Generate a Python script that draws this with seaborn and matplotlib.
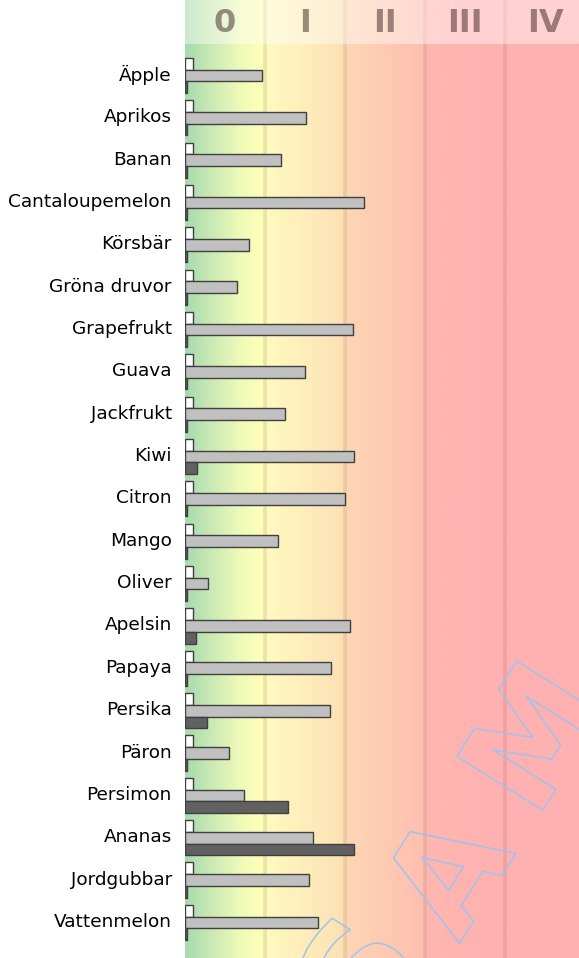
import numpy as np
import pandas as pd
import matplotlib
matplotlib.use("Agg")
import matplotlib.pyplot as plt
import matplotlib.transforms as mtransforms
import matplotlib.patheffects as pe
from matplotlib.patches import Rectangle
import seaborn as sns

# ---- data ----
fruits = ["Äpple", "Aprikos", "Banan", "Cantaloupemelon", "Körsbär", "Gröna druvor",
          "Grapefrukt", "Guava", "Jackfrukt", "Kiwi", "Citron", "Mango", "Oliver",
          "Apelsin", "Papaya", "Persika", "Päron", "Persimon", "Ananas",
          "Jordgubbar", "Vattenmelon"]
series_a = [2, 2, 2, 2, 2, 2, 2, 2, 2, 2, 2, 2, 2, 2, 2, 2, 2, 2, 2, 2, 2]
series_b = [19.25, 30.2, 24, 44.75, 16, 13, 42, 30, 25, 42.25, 40, 23.25, 5.7,
            41.2, 36.5, 36.2, 11, 14.75, 32, 31, 33.25]
series_c = [0.6, 0.6, 0.6, 0.6, 0.6, 0.6, 0.6, 0.6, 0.6, 3.0, 0.6, 0.6, 0.6,
            2.8, 0.6, 5.5, 0.6, 25.75, 42.25, 0.6, 0.6]
series_names = ["A", "B", "C"]
zone_labels = ["0", "I", "II", "III", "IV"]
zone_edges = [20, 40, 60, 80]
zone_centers = [10, 30, 50, 70, 90]

df = pd.DataFrame({
    "fruit": fruits * 3,
    "value": series_a + series_b + series_c,
    "series": [series_names[0]] * len(fruits) + [series_names[1]] * len(fruits)
              + [series_names[2]] * len(fruits),
})

sns.set_style("white")
plt.rcParams["font.family"] = ["DejaVu Sans"]

W, H = 579, 958
fig = plt.figure(figsize=(W / 100, H / 100), dpi=100)
ax = fig.add_axes([185 / W, 0, 394 / W, 1])

XMAX = 98.5
YTOP, YBOT = -1.78, 20.84

# background gradient
stops_x = [0, 6, 14, 19.5, 20.5, 40, 40.5, 60, 61, 80, XMAX]
stops_c = np.array([
    (166, 218, 174), (200, 232, 180), (240, 250, 184), (255, 255, 184),
    (255, 250, 192), (253, 224, 180), (254, 214, 181), (255, 190, 176),
    (255, 182, 176), (255, 176, 176), (255, 176, 176)]) / 255.0
xs = np.linspace(0, XMAX, 800)
grad = np.stack([np.interp(xs, stops_x, stops_c[:, k]) for k in range(3)], axis=-1)
grad = grad[np.newaxis, :, :]
ax.imshow(grad, extent=(0, XMAX, YBOT, YTOP), aspect="auto", zorder=0,
          interpolation="bilinear")

for v in zone_edges:
    ax.axvline(v, color=(0.55, 0.38, 0.28), alpha=0.16, lw=2.6, zorder=1)

# header band
ax.add_patch(Rectangle((0, 1 - 44 / H), 1, 44 / H, transform=ax.transAxes,
                       facecolor="white", alpha=0.42, edgecolor="none", zorder=2))
blend = mtransforms.blended_transform_factory(ax.transData, ax.transAxes)
for xc, lab in zip(zone_centers, zone_labels):
    ax.text(xc, 1 - 23 / H, lab, transform=blend, ha="center", va="center",
            fontsize=23, fontweight="bold", color="#3a2222", alpha=0.5, zorder=4)

# bars
sns.barplot(data=df, y="fruit", x="value", hue="series", orient="h",
            palette=["#ffffff", "#c0c0c0", "#616161"], edgecolor="#404040",
            linewidth=1, legend=False, ax=ax, zorder=3, width=0.83)

# watermark
for ch, (px, py) in zip(["S", "A", "M"], [(365, 978), (455, 878), (540, 742)]):
    t = ax.text(px / W, 1 - py / H, ch, transform=fig.transFigure, fontsize=100,
                fontweight="bold", ha="center", va="center", rotation=58,
                rotation_mode="anchor", color=(0, 0, 0, 0), zorder=5, clip_on=True)
    t.set_path_effects([pe.Stroke(linewidth=1.1, foreground="#9cc4ee")])

ax.set_xlim(0, XMAX)
ax.set_ylim(YBOT, YTOP)
ax.set_xlabel("")
ax.set_ylabel("")
ax.set_xticks([])
ax.tick_params(axis="y", length=0, pad=9.5, labelsize=13.3, labelcolor="black")
for lbl in ax.get_yticklabels():
    lbl.set_transform(lbl.get_transform() + mtransforms.ScaledTranslation(0, 2.5 / 100, fig.dpi_scale_trans))
for s in ax.spines.values():
    s.set_visible(False)

fig.savefig("out.png", dpi=100)
